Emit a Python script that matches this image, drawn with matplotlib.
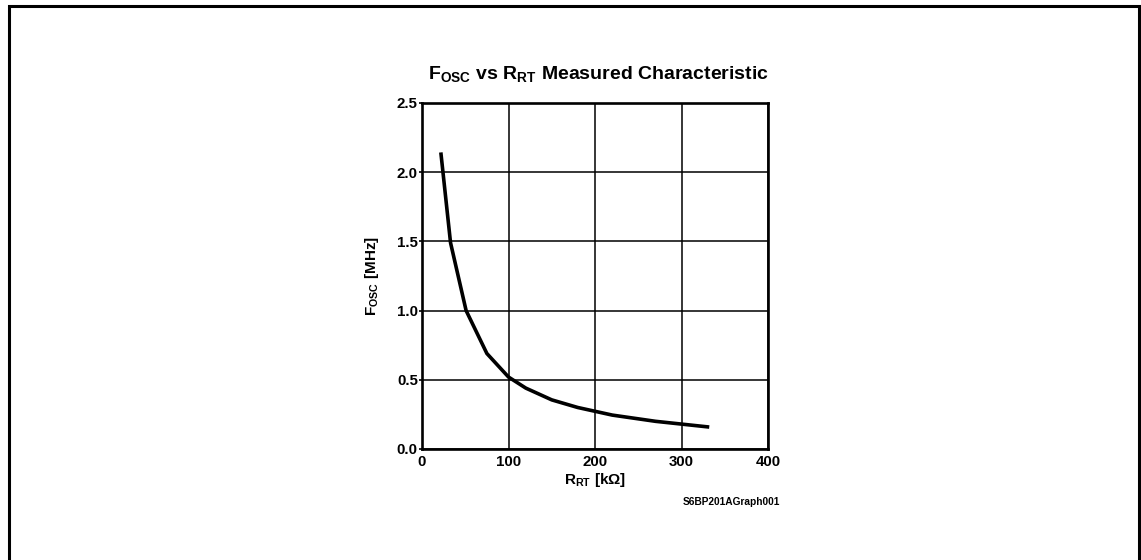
import matplotlib
matplotlib.use("Agg")
import matplotlib.pyplot as plt
from matplotlib.patches import Rectangle

# Data
r_rt_kohm = [22, 33, 51, 75, 100, 120, 150, 180, 220, 270, 330]
f_osc_mhz = [2.13, 1.49, 1.00, 0.69, 0.52, 0.44, 0.355, 0.30, 0.245, 0.20, 0.16]
x_ticks = [0, 100, 200, 300, 400]
y_ticks = [0.0, 0.5, 1.0, 1.5, 2.0, 2.5]
y_tick_labels = ["0.0", "0.5", "1.0", "1.5", "2.0", "2.5"]

plt.rcParams['font.family'] = ['Liberation Sans', 'DejaVu Sans']
plt.rcParams['font.weight'] = 'bold'
plt.rcParams['mathtext.fontset'] = 'custom'
plt.rcParams['mathtext.rm'] = 'Liberation Sans:bold'
plt.rcParams['mathtext.bf'] = 'Liberation Sans:bold'
plt.rcParams['mathtext.it'] = 'Liberation Sans:bold'
plt.rcParams['mathtext.sf'] = 'Liberation Sans:bold'

W, H = 1141, 560
fig = plt.figure(figsize=(W / 100, H / 100), dpi=100)

# outer border
fig.patches.append(Rectangle((8.5 / W, -0.2), (1138.5 - 8.5) / W, 1 - 6.5 / H + 0.2,
                             transform=fig.transFigure, fill=False,
                             edgecolor='black', linewidth=2.2))

ax = fig.add_axes([422 / W, 1 - 449 / H, 346 / W, 346 / H])
ax.plot(r_rt_kohm, f_osc_mhz, color='black', linewidth=2.6, solid_joinstyle='miter')
ax.set_xlim(0, 400)
ax.set_ylim(0, 2.5)
ax.set_xticks(x_ticks)
ax.set_yticks(y_ticks)
ax.set_yticklabels(y_tick_labels)
ax.grid(True, color='black', linewidth=1.1)
ax.set_axisbelow(True)
for s in ax.spines.values():
    s.set_linewidth(1.9)
    s.set_color('black')
ax.tick_params(axis='y', direction='out', length=2.5, width=1.2, pad=0.5, labelsize=10.8)
ax.tick_params(axis='x', length=0, pad=4, labelsize=10.8)
for lab in ax.get_xticklabels() + ax.get_yticklabels():
    lab.set_fontweight('bold')

fig.text(598 / W, 1 - 79 / H, r'F$_{\mathrm{OSC}}$ vs R$_{\mathrm{RT}}$ Measured Characteristic',
         ha='center', va='baseline', fontsize=14, fontweight='bold')
fig.text(372 / W, 1 - 276.5 / H, r'F$_{\mathrm{OSC}}$ [MHz]', rotation=90,
         ha='center', va='center', fontsize=11, fontweight='bold')
fig.text(595 / W, 1 - 480 / H, r'R$_{\mathrm{RT}}$ [k$\Omega$]',
         ha='center', va='center', fontsize=11, fontweight='bold')
fig.text(780 / W, 1 - 502 / H, 'S6BP201AGraph001',
         ha='right', va='center', fontsize=7.3, fontweight='bold')

fig.savefig('out.png', dpi=100)
